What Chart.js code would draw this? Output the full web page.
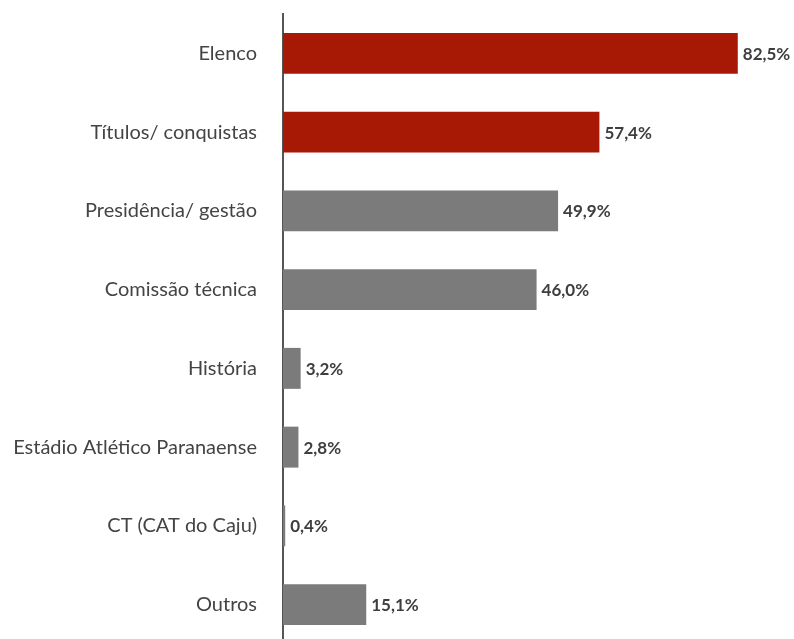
<!DOCTYPE html>
<html>
<head>
<meta charset="utf-8">
<script src="https://cdn.jsdelivr.net/npm/chart.js@4/dist/chart.umd.min.js"></script>
<style>
  html, body { margin: 0; padding: 0; background: #fff; overflow: hidden; }
  /* a área do gráfico passa um pouco da borda inferior, como o eixo no original */
  #wrap { position: absolute; left: 0; top: -24px; width: 794px; height: 706px; }
</style>
</head>
<body>
<div id="wrap"><canvas id="chart"></canvas></div>
<script>
'use strict'

const categorias = [
  'Elenco',
  'Títulos/ conquistas',
  'Presidência/ gestão',
  'Comissão técnica',
  'História',
  'Estádio Atlético Paranaense',
  'CT (CAT do Caju)',
  'Outros',
];
const percentuais = [82.5, 57.4, 49.9, 46.0, 3.2, 2.8, 0.4, 15.1];
const destaques = 2; // as duas primeiras barras em vermelho

const VERMELHO = '#a81905';
const CINZA = '#7b7b7b';
const FONTE = 'Lato, "Noto Sans", sans-serif';

// escreve o valor ao lado de cada barra
const rotulosValor = {
  id: 'rotulosValor',
  afterDatasetsDraw(chart) {
    const ctx = chart.ctx;
    const meta = chart.getDatasetMeta(0);
    ctx.save();
    ctx.font = 'bold 17px ' + FONTE;
    ctx.fillStyle = '#3e3e3e';
    ctx.textAlign = 'left';
    ctx.textBaseline = 'middle';
    meta.data.forEach(function(bar, i) {
      const txt = percentuais[i].toFixed(1).replace('.', ',') + '%';
      ctx.fillText(txt, bar.x + 5, bar.y + 1);
    });
    ctx.restore();
  }
};

const ctx = document.getElementById('chart');

new Chart(ctx, {
  type: 'bar',
  data: {
    labels: categorias,
    datasets: [{
      data: percentuais,
      backgroundColor: percentuais.map((v, i) => i < destaques ? VERMELHO : CINZA),
      barPercentage: 0.52,
      categoryPercentage: 1,
      borderWidth: 0,
    }]
  },
  options: {
    indexAxis: 'y',
    responsive: true,
    maintainAspectRatio: false,
    animation: false,
    layout: { padding: 0 },
    plugins: {
      legend: { display: false },
      tooltip: { enabled: false },
    },
    scales: {
      x: {
        display: false,
        min: 0,
        max: 92.7,
      },
      y: {
        afterFit(scale) { scale.width = 283; },
        grid: { display: false, drawTicks: false },
        border: { display: true, color: '#555', width: 2 },
        ticks: {
          padding: 26,
          color: '#444',
          font: { family: FONTE, size: 20 },
        },
      },
    },
  },
  plugins: [rotulosValor],
});
</script>
</body>
</html>
